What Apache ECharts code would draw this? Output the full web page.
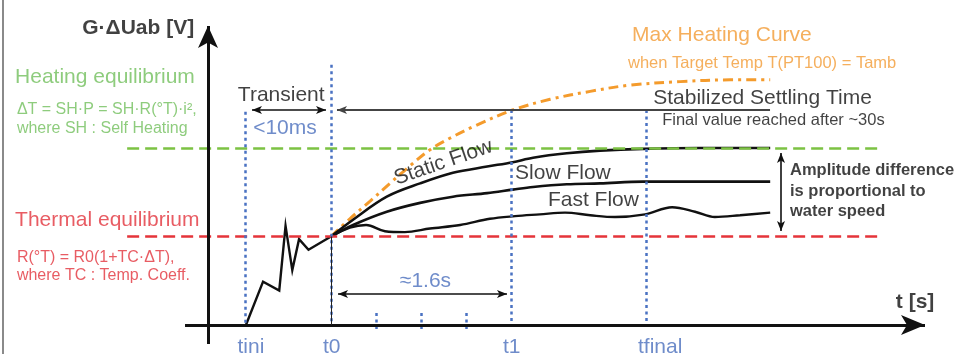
<!DOCTYPE html>
<html><head><meta charset="utf-8">
<script src="https://cdn.jsdelivr.net/npm/echarts@6/dist/echarts.min.js"></script>
<style>html,body{margin:0;padding:0;background:#fff}#c{width:961px;height:354px}</style>
</head><body><div id="c"></div>
<script>
// Units: x = time (t0 = 0, one unit per minor tick), y = normalised signal
// (thermal equilibrium = 1, heating equilibrium = 2)
const tickNames = ['tini', 't0', 't1', 'tfinal'];
const tickTimes = [-1.9, 0, 4, 7];
const guideTops = [2.41, 2.94, 2.43, 2.43];
const minorTicks = [1, 2, 3];
const thermalLevel = 1.0;
const heatingLevel = 2.0;

const transientT = [-1.89, -1.51, -1.15, -1.01, -0.86, -0.71, -0.50, 0];
const transientV = [0, 0.49, 0.39, 1.12, 0.62, 0.97, 0.85, 1.0];

const staticT = [0, 0.49, 1.24, 1.98, 2.71, 3.47, 4.04, 4.49, 5.24, 5.98, 6.93, 8.2, 9.76];
const staticV = [1.0, 1.19, 1.45, 1.6, 1.72, 1.79, 1.84, 1.89, 1.94, 1.97, 1.99, 2.0, 2.0];

const slowT = [0, 0.49, 1.24, 1.98, 2.71, 3.47, 4.04, 4.49, 5.24, 5.98, 6.93, 9.76];
const slowV = [1.0, 1.13, 1.28, 1.38, 1.45, 1.49, 1.53, 1.56, 1.59, 1.6, 1.62, 1.62];

const fastT = [0, 0.42, 0.78, 1.2, 1.64, 2.2, 2.87, 3.53, 4.09, 4.64, 5.2, 5.76, 6.31, 6.98, 7.58, 8.09, 8.53, 9.09, 9.76];
const fastV = [1.0, 1.1, 1.13, 1.06, 1.05, 1.09, 1.13, 1.2, 1.23, 1.25, 1.27, 1.24, 1.22, 1.25, 1.33, 1.28, 1.22, 1.24, 1.27];

const maxT = [0, 0.42, 0.87, 1.31, 1.76, 2.2, 2.64, 3.2, 4.04, 4.87, 5.76, 6.64, 7.76, 8.87, 9.76];
const maxV = [1.0, 1.2, 1.4, 1.6, 1.8, 1.98, 2.11, 2.25, 2.43, 2.55, 2.64, 2.71, 2.75, 2.77, 2.77];

// annotation texts: [text, x, y, style]
const notes = [
  ['G·ΔUab [V]', -3.04, 3.356, 'axisR'],
  ['t [s]', 12.98, 0.26, 'axisC'],
  ['Heating equilibrium', -7.02, 2.80, 'greenBig'],
  ['ΔT = SH·P = SH·R(°T)·i²,', -6.98, 2.43, 'greenSmall'],
  ['where SH : Self Heating', -6.98, 2.215, 'greenSmall'],
  ['Thermal equilibrium', -7.02, 1.186, 'redBig'],
  ['R(°T) = R0(1+TC·ΔT),', -6.98, 0.757, 'redSmall'],
  ['where TC : Temp. Coeff.', -6.98, 0.554, 'redSmall'],
  ['Transient', -2.07, 2.60, 'blackBig'],
  ['<10ms', -1.73, 2.226, 'blueBig'],
  ['Max Heating Curve', 6.69, 3.277, 'orangeBig'],
  ['when Target Temp T(PT100) = Tamb', 6.6, 2.96, 'orangeSmall'],
  ['Stabilized Settling Time', 7.16, 2.565, 'blackBig'],
  ['Final value reached after ~30s', 7.36, 2.316, 'blackSmall'],
  ['Static Flow', 2.5, 1.835, 'rotated'],
  ['Slow Flow', 4.09, 1.718, 'blackBig'],
  ['Fast Flow', 4.82, 1.412, 'blackBig'],
  ['Amplitude difference', 10.2, 1.751, 'bold'],
  ['is proportional to', 10.2, 1.514, 'bold'],
  ['water speed', 10.2, 1.288, 'bold'],
  ['≈1.6s', 1.53, 0.497, 'blueBig']
];
const tickLabelY = -0.249;

const FONT = 'Liberation Sans, Arial, Helvetica, sans-serif';
const C = {green: '#72bf5c', greenLine: '#7cc243', red: '#e2333c', redLine: '#e5343a',
  orange: '#f29b35', orangeLine: '#f49b2c', blue: '#4b6fbd', blueLine: '#4a72c2', black: '#111'};
const styles = {
  axisR: {fontSize: 21, fontWeight: 'bold', color: C.black, align: 'right'},
  axisC: {fontSize: 21, fontWeight: 'bold', color: C.black, align: 'center'},
  greenBig: {fontSize: 21, color: C.green, align: 'left'},
  greenSmall: {fontSize: 16, color: C.green, align: 'left'},
  redBig: {fontSize: 21, color: C.red, align: 'left'},
  redSmall: {fontSize: 16, color: C.red, align: 'left'},
  blackBig: {fontSize: 21, color: C.black, align: 'left'},
  blackSmall: {fontSize: 16.5, color: C.black, align: 'left'},
  blueBig: {fontSize: 21, color: C.blue, align: 'left'},
  orangeBig: {fontSize: 21, color: C.orange, align: 'left'},
  orangeSmall: {fontSize: 16.5, color: C.orange, align: 'left'},
  rotated: {fontSize: 21, color: C.black, align: 'center', rotate: 19},
  bold: {fontSize: 16.5, fontWeight: 'bold', color: C.black, align: 'left'}
};

const zip = (a, b) => a.map((v, i) => [v, b[i]]);

const chart = echarts.init(document.getElementById('c'), null, {renderer: 'canvas'});

const seg = (p1, p2, style, s1, s2, size) => [
  {coord: p1, symbol: s1 || 'none', symbolSize: size || [6, 10], lineStyle: style},
  {coord: p2, symbol: s2 || 'none', symbolSize: size || [6, 10]}
];

const dashedH = {type: [12, 6], width: 2.5, cap: 'butt'};
const dotted = {color: C.blueLine, type: [3, 3.5], width: 2.5, cap: 'butt', opacity: 1};
const guideLines = [
  seg([-4.53, heatingLevel], [12.24, heatingLevel], Object.assign({color: C.greenLine}, dashedH)),
  seg([-4.53, thermalLevel], [12.24, thermalLevel], Object.assign({color: C.redLine}, dashedH))
];
tickTimes.forEach((t, i) => guideLines.push(seg([t, guideTops[i]], [t, 0], dotted)));
minorTicks.forEach(t => guideLines.push(seg([t, 0.136], [t, -0.08], dotted)));

const thin = {color: C.black, width: 1.6, type: 'solid'};
const arrowLines = [
  seg([-2.733, -0.215], [-2.733, 3.379], {color: C.black, width: 3, type: 'solid'}, 'none', 'arrow', [15, 22]),
  seg([-3.244, 0], [13.2, 0], {color: C.black, width: 3, type: 'solid'}, 'none', 'arrow', [15, 24]),
  seg([-1.756, 2.429], [-0.111, 2.429], thin, 'arrow', 'arrow'),
  seg([0.133, 2.429], [9.756, 2.429], {color: '#444', width: 1.8, type: 'solid'}, 'arrow', 'none'),
  seg([0.156, 0.35], [3.911, 0.35], thin, 'arrow', 'arrow'),
  seg([10.0, 1.944], [10.0, 1.062], thin, 'arrow', 'arrow'),
  seg([0, 1.0], [0, 0], {color: '#222', width: 1, type: 'solid'})
];

const textData = notes.map(n => ({
  value: [n[1], n[2]],
  label: Object.assign({show: true, position: 'inside', verticalAlign: 'middle', formatter: n[0], fontFamily: FONT}, styles[n[3]])
}));
tickTimes.forEach((t, i) => textData.push({
  value: [t, tickLabelY],
  label: {show: true, position: 'inside', align: 'left', verticalAlign: 'middle', offset: [-8, 0],
    formatter: tickNames[i], fontFamily: FONT, fontSize: 21, color: C.blue}
}));

const curve = (name, t, v, style, z) => ({
  name, type: 'line', data: zip(t, v), showSymbol: false, smooth: 0.35,
  lineStyle: style, z: z, silent: true, clip: false
});

chart.setOption({
  animation: false,
  backgroundColor: '#fff',
  grid: {left: 0, right: 0, top: 0, bottom: 0, containLabel: false, outerBoundsMode: 'none'},
  xAxis: {type: 'value', min: -331 / 45, max: 630 / 45, show: false},
  yAxis: {type: 'value', min: -29 / 88.5, max: 325 / 88.5, show: false},
  graphic: [{type: 'rect', left: 2, top: 0, shape: {width: 2, height: 354}, style: {fill: '#8a8a8a'}, silent: true}],
  series: [
    curve('Max Heating Curve', maxT, maxV, {color: C.orangeLine, width: 3, type: [10, 5, 3, 5], cap: 'butt'}, 2),
    curve('Static Flow', staticT, staticV, {color: C.black, width: 2.6}, 3),
    curve('Slow Flow', slowT, slowV, {color: C.black, width: 2.6}, 3),
    curve('Fast Flow', fastT, fastV, {color: C.black, width: 2.4}, 3),
    {name: 'Transient', type: 'line', data: zip(transientT, transientV), showSymbol: false,
      lineStyle: {color: C.black, width: 2.4, join: 'miter'}, z: 3, silent: true},
    {type: 'scatter', data: [], z: 5, silent: true,
      markLine: {silent: true, symbol: ['none', 'none'], label: {show: false}, emphasis: {disabled: true}, animation: false, data: guideLines}},
    {type: 'scatter', data: [], z: 6, silent: true,
      markLine: {silent: true, symbol: ['none', 'none'], label: {show: false}, emphasis: {disabled: true}, animation: false,
        itemStyle: {color: C.black}, data: arrowLines}},
    {type: 'scatter', data: textData, symbolSize: 1, itemStyle: {color: 'rgba(0,0,0,0)'}, z: 7, silent: true}
  ]
});
</script></body></html>
